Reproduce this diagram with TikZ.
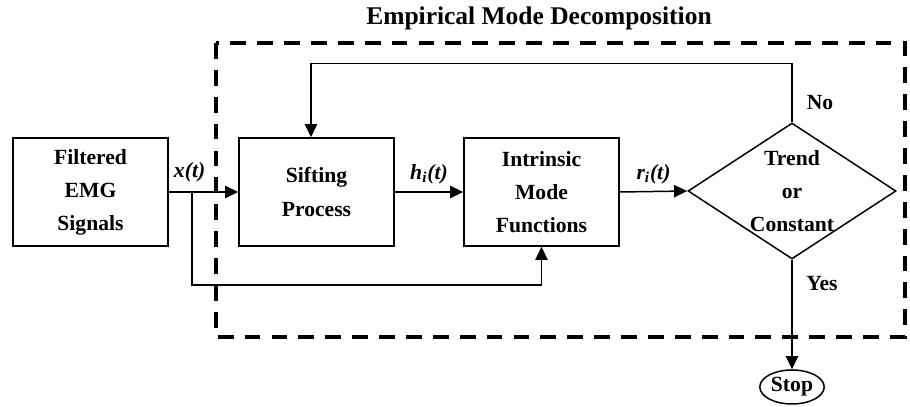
\documentclass[tikz,border=0pt]{standalone}
\usepackage{fontspec}
\setmainfont{Liberation Serif}
\usetikzlibrary{shapes.geometric,arrows.meta}

\begin{document}
\begin{tikzpicture}[>={Triangle[length=7.5pt,width=7pt]},line width=0.85pt,
  blk/.style={draw,minimum width=3.1cm,minimum height=2.16cm,align=center,font=\fontsize{12.3}{18.8}\selectfont\bfseries,inner sep=2pt},
  dia/.style={draw,diamond,minimum width=4.16cm,minimum height=2.72cm,inner sep=0pt},
  txt/.style={align=center,font=\fontsize{12.3}{18.8}\selectfont\bfseries},
  lab/.style={font=\fontsize{12.3}{14}\selectfont\bfseries,inner sep=1pt},
  sig/.style={lab,font=\fontsize{12.3}{14}\selectfont\bfseries\itshape},
  frame/.style={line width=2pt,dash pattern=on 9pt off 6.3pt}]
  \useasboundingbox (0,0) rectangle (18.20,8.14);
  \node[font=\fontsize{14.5}{16}\selectfont\bfseries] (ttl) at (10.78,7.78) {Empirical Mode Decomposition};
  \draw[frame] (4.32,7.28) rectangle (18.10,1.40);
  \node[blk] (filt) at (1.81,4.30) {Filtered\\EMG\\Signals};
  \node[blk] (sift) at (6.33,4.30) {Sifting\\Process};
  \node[blk] (imf) at (10.83,4.30) {Intrinsic\\Mode\\Functions};
  \node[dia] (dec) at (15.84,4.32) {};
  \node[txt] (dectxt) at (dec) {Trend\\or\\Constant};
  \node[draw,ellipse,minimum width=1.16cm,minimum height=0.68cm,inner sep=0pt,lab] (stop) at (15.84,0.40) {Stop};
  \coordinate (br) at (3.84,4.30);
  \draw[->] (filt) -- node[sig,pos=0.3,above=4pt] {x(t)} (sift);
  \draw[->] (br) -- ++(0,-1.86) -| (imf.south);
  \draw[->] (sift) -- node[sig,above=3pt] {h\textsubscript{i}(t)} (imf);
  \draw[->] (imf.east) -- node[sig,above=3pt] {r\textsubscript{i}(t)} (dec.west);
  \draw[->] (dec.north) -- ++(0,1.18) -| ([xshift=-0.11cm]sift.north);
  \draw[->] (dec.south) -- (stop);
  \node[lab] (no) at (16.40,6.08) {No};
  \node[lab] (yes) at (16.44,2.46) {Yes};
\end{tikzpicture}
\end{document}
